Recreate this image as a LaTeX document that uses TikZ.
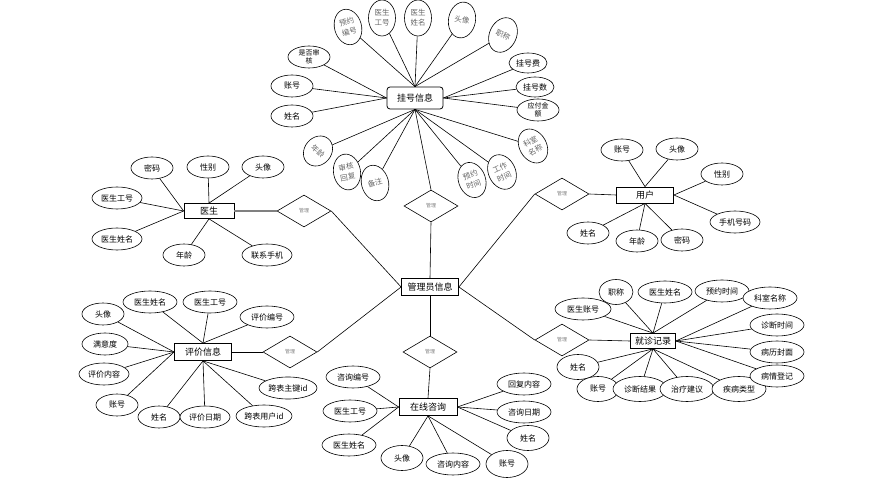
\documentclass[tikz,border=0pt]{standalone}
\usepackage{fontspec}
\newfontfamily\cjk{Noto Sans CJK SC}
\usepackage{tikz}
\usetikzlibrary{shapes.geometric}

\begin{document}
\begin{tikzpicture}[
    x=1pt, y=-1pt,
    entity/.style={draw, fill=white, line width=0.8pt, minimum width=57pt, minimum height=17pt, inner sep=1pt, font=\cjk\fontsize{9}{10}\selectfont},
    attr/.style={draw, fill=white, ellipse, line width=0.6pt, minimum width=42pt, minimum height=22pt, inner sep=0pt, font=\cjk\fontsize{8}{9}\selectfont},
    wideattr/.style={attr, minimum width=54pt},
    tallattr/.style={attr, minimum width=27pt, minimum height=36pt, align=center, text=black!60, font=\cjk\fontsize{7.5}{10}\selectfont},
    rel/.style={draw, fill=white, diamond, line width=0.6pt, minimum width=54pt, minimum height=32pt, inner sep=0pt, text=gray, font=\cjk\fontsize{5}{6}\selectfont},
    link/.style={line width=0.6pt},
]
  \fill[white] (0,0) rectangle (879,486);
  \useasboundingbox (0,0) rectangle (879,486);

  % Admin and relations
  \node[entity] (gly) at (430, 287) {管理员信息};
  \node[rel] (dgh) at (431, 206) {管理};
  \node[rel] (dys) at (304, 211) {管理};
  \node[rel] (dyh) at (562, 194) {管理};
  \node[rel] (dpj) at (290, 352) {管理};
  \node[rel] (dzx) at (430, 352) {管理};
  \node[rel] (djz) at (562, 340) {管理};

  % Registration
  \node[entity, rounded corners=3pt, minimum width=56pt, minimum height=22pt] (gh) at (415, 98) {挂号信息};
  \node[tallattr, rotate=15] (ghBh) at (348, 27) {预约\\编号};
  \node[tallattr] (ghGh) at (382, 18) {医生\\工号};
  \node[tallattr] (ghXm) at (418, 18) {医生\\姓名};
  \node[tallattr, rotate=-10] (ghTx) at (462, 20) {头像};
  \node[tallattr, rotate=-25] (ghZc) at (503, 35) {职称};
  \node[attr, align=center, font=\cjk\fontsize{7}{8}\selectfont] (ghSh) at (309, 57) {是否审\\核};
  \node[attr, minimum width=38pt, minimum height=20pt] (ghGhf) at (528, 63) {挂号费};
  \node[attr] (ghZh) at (292, 86) {账号};
  \node[attr, minimum width=38pt, minimum height=20pt] (ghGhs) at (535, 87) {挂号数};
  \node[attr, align=center, font=\cjk\fontsize{7}{8}\selectfont] (ghYf) at (538, 110) {应付金\\额};
  \node[attr] (ghXm2) at (292, 116) {姓名};
  \node[tallattr, rotate=-40, minimum height=32pt] (ghNl) at (318, 151) {年龄};
  \node[tallattr, rotate=10] (ghHf) at (347, 172) {审核\\回复};
  \node[tallattr, rotate=15] (ghBz) at (375, 183) {备注};
  \node[tallattr, rotate=20] (ghYy) at (472, 180) {预约\\时间};
  \node[tallattr, rotate=25] (ghGz) at (502, 172) {工作\\时间};
  \node[tallattr, rotate=30] (ghKs) at (533, 146) {科室\\名称};

  \draw[link] (ghBh) -- (gh.north);
  \draw[link] (ghGh) -- (gh.north);
  \draw[link] (ghXm) -- (gh.north);
  \draw[link] (ghTx) -- (gh.north);
  \draw[link] (ghZc) -- (gh.north);
  \draw[link] (ghSh) -- (gh.west);
  \draw[link] (ghZh) -- (gh.west);
  \draw[link] (ghXm2) -- (gh.west);
  \draw[link] (ghGhf) -- (gh.east);
  \draw[link] (ghGhs) -- (gh.east);
  \draw[link] (ghYf) -- (gh.east);
  \draw[link] (ghNl) -- (gh.south);
  \draw[link] (ghHf) -- (gh.south);
  \draw[link] (ghBz) -- (gh.south);
  \draw[link] (ghYy) -- (gh.south);
  \draw[link] (ghGz) -- (gh.south);
  \draw[link] (ghKs) -- (gh.south);

  % Doctor
  \node[entity, minimum width=50pt, minimum height=15pt] (ys) at (209, 211) {医生};
  \node[attr] (ysMm) at (152, 168) {密码};
  \node[attr] (ysXb) at (208, 167) {性别};
  \node[attr] (ysTx) at (263, 167) {头像};
  \node[wideattr, minimum width=50pt] (ysGh) at (117, 198) {医生工号};
  \node[wideattr, minimum width=50pt] (ysXm) at (117, 239) {医生姓名};
  \node[attr] (ysNl) at (184, 255) {年龄};
  \node[wideattr, minimum width=50pt] (ysSj) at (267, 255) {联系手机};

  \draw[link] (ysMm) -- (ys.west);
  \draw[link] (ysXb) -- (ys.north);
  \draw[link] (ysTx) -- (ys.north);
  \draw[link] (ysGh) -- (ys.west);
  \draw[link] (ysXm) -- (ys.west);
  \draw[link] (ysNl) -- (ys.south);
  \draw[link] (ysSj) -- (ys.south);

  % User
  \node[entity, minimum height=16pt] (yh) at (645, 195) {用户};
  \node[attr] (yhZh) at (622, 150) {账号};
  \node[attr] (yhTx) at (677, 149) {头像};
  \node[attr] (yhXb) at (722, 174) {性别};
  \node[wideattr, minimum width=50pt] (yhSj) at (735, 222) {手机号码};
  \node[attr] (yhXm) at (588, 233) {姓名};
  \node[attr] (yhNl) at (637, 241) {年龄};
  \node[attr] (yhMm) at (682, 240) {密码};

  \draw[link] (yhZh) -- (yh.north);
  \draw[link] (yhTx) -- (yh.north);
  \draw[link] (yhXb) -- (yh.east);
  \draw[link] (yhSj) -- (yh.east);
  \draw[link] (yhXm) -- (yh.south);
  \draw[link] (yhNl) -- (yh.south);
  \draw[link] (yhMm) -- (yh.south);

  % Evaluation
  \node[entity] (pj) at (203, 352) {评价信息};
  \node[attr] (pjTx) at (103, 314) {头像};
  \node[wideattr] (pjXm) at (150, 302) {医生姓名};
  \node[wideattr] (pjGh) at (210, 302) {医生工号};
  \node[wideattr] (pjBh) at (267, 317) {评价编号};
  \node[attr, minimum width=46pt] (pjMy) at (105, 344) {满意度};
  \node[wideattr, minimum width=50pt] (pjNr) at (104, 374) {评价内容};
  \node[attr] (pjZh) at (117, 405) {账号};
  \node[attr] (pjXm2) at (159, 417) {姓名};
  \node[wideattr, minimum width=50pt] (pjRq) at (205, 417) {评价日期};
  \node[wideattr, minimum width=56pt] (pjYh) at (264, 416) {跨表用户id};
  \node[wideattr, minimum width=58pt] (pjZj) at (288, 388) {跨表主键id};

  \draw[link] (pjTx) -- (pj.west);
  \draw[link] (pjXm) -- (pj.north);
  \draw[link] (pjGh) -- (pj.north);
  \draw[link] (pjBh) -- (pj.north);
  \draw[link] (pjMy) -- (pj.west);
  \draw[link] (pjNr) -- (pj.west);
  \draw[link] (pjZh) -- (pj.west);
  \draw[link] (pjXm2) -- (pj.south);
  \draw[link] (pjRq) -- (pj.south);
  \draw[link] (pjYh) -- (pj.south);
  \draw[link] (pjZj) -- (pj.south);

  % Online consultation
  \node[entity, minimum width=58pt] (zx) at (428, 407) {在线咨询};
  \node[wideattr] (zxBh) at (353, 377) {咨询编号};
  \node[wideattr] (zxGh) at (350, 411) {医生工号};
  \node[wideattr] (zxXm) at (349, 445) {医生姓名};
  \node[attr, minimum height=25pt] (zxTx) at (402, 458) {头像};
  \node[wideattr] (zxNr) at (453, 464) {咨询内容};
  \node[attr, minimum height=27pt] (zxZh) at (507, 464) {账号};
  \node[attr, minimum height=25pt] (zxXm2) at (528, 438) {姓名};
  \node[wideattr] (zxRq) at (524, 412) {咨询日期};
  \node[wideattr] (zxHf) at (524, 384) {回复内容};

  \draw[link] (zxBh) -- (zx.west);
  \draw[link] (zxGh) -- (zx.west);
  \draw[link] (zxXm) -- (zx.west);
  \draw[link] (zxTx) -- (zx.south);
  \draw[link] (zxNr) -- (zx.south);
  \draw[link] (zxZh) -- (zx.south);
  \draw[link] (zxXm2) -- (zx.east);
  \draw[link] (zxRq) -- (zx.east);
  \draw[link] (zxHf) -- (zx.east);

  % Visit records
  \node[entity, minimum width=45pt, minimum height=15pt] (jz) at (653, 341) {就诊记录};
  \node[attr, minimum width=34pt, minimum height=25pt] (jzZc) at (616, 292) {职称};
  \node[wideattr] (jzXm) at (665, 292) {医生姓名};
  \node[wideattr] (jzYy) at (722, 291) {预约时间};
  \node[wideattr] (jzKs) at (770, 298) {科室名称};
  \node[wideattr, minimum width=56pt] (jzZh) at (583, 309) {医生账号};
  \node[wideattr] (jzZd) at (777, 325) {诊断时间};
  \node[wideattr] (jzBl) at (777, 352) {病历封面};
  \node[attr, minimum height=25pt] (jzXm2) at (578, 367) {姓名};
  \node[attr, minimum height=25pt] (jzZh2) at (598, 389) {账号};
  \node[wideattr, minimum height=25pt] (jzJg) at (640, 389) {诊断结果};
  \node[wideattr, minimum height=25pt] (jzJy) at (687, 389) {治疗建议};
  \node[wideattr, minimum height=25pt] (jzLx) at (739, 389) {疾病类型};
  \node[wideattr] (jzBq) at (777, 376) {病情登记};

  \draw[link] (jzZc) -- (jz.north);
  \draw[link] (jzXm) -- (jz.north);
  \draw[link] (jzYy) -- (jz.north);
  \draw[link] (jzZh) -- (jz.north);
  \draw[link] (jzKs) -- (jz.east);
  \draw[link] (jzZd) -- (jz.east);
  \draw[link] (jzBl) -- (jz.east);
  \draw[link] (jzBq) -- (jz.east);
  \draw[link] (jzXm2) -- (jz.south);
  \draw[link] (jzZh2) -- (jz.south);
  \draw[link] (jzJg) -- (jz.south);
  \draw[link] (jzJy) -- (jz.south);
  \draw[link] (jzLx) -- (jz.south);

  % Relation links
  \draw[link] (gly.west) -- (dys.east);
  \draw[link] (gly.west) -- (dpj.east);
  \draw[link] (gly.north) -- (dgh.south);
  \draw[link] (gly.east) -- (dyh.west);
  \draw[link] (gly.east) -- (djz.west);
  \draw[link] (gly.south) -- (dzx.north);
  \draw[line width=1.2pt, gray] (dys.west) -- (ys.east);
  \draw[link] (dyh.east) -- (yh.west);
  \draw[link] (dpj.west) -- (pj.east);
  \draw[link] (djz.east) -- (jz.west);
  \draw[link] (dzx.south) -- (zx.north);
  \draw[link] (dgh.north) -- (gh.south);
\end{tikzpicture}
\end{document}
